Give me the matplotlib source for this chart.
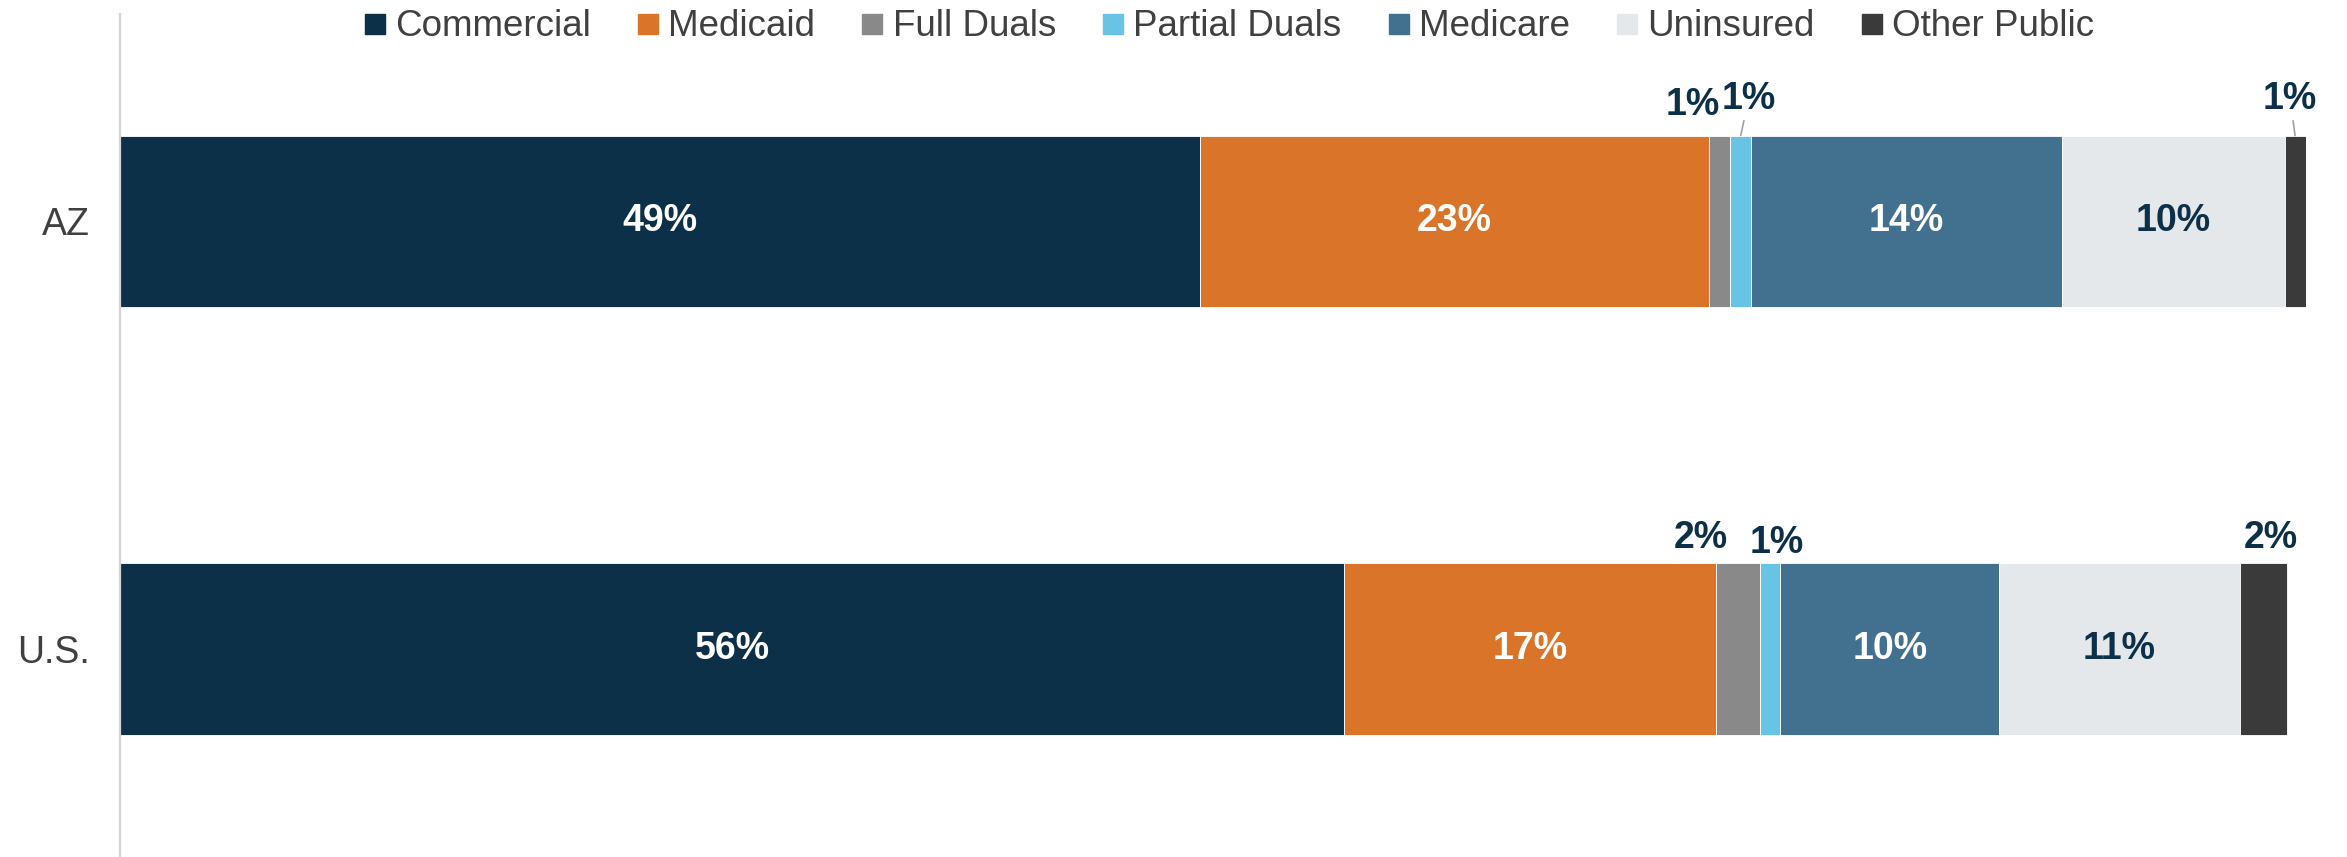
import matplotlib
matplotlib.use("Agg")
import matplotlib.pyplot as plt
from matplotlib.lines import Line2D

plt.rcParams['font.family'] = ['Liberation Sans', 'DejaVu Sans']

categories = ["AZ", "U.S."]
series = ["Commercial", "Medicaid", "Full Duals", "Partial Duals", "Medicare", "Uninsured", "Other Public"]
az_values = [49.4, 23.3, 0.96, 0.96, 14.2, 10.2, 0.96]
us_values = [56.0, 17.0, 2.0, 0.96, 10.0, 11.0, 2.15]
az_labels = ["49%", "23%", "1%", "1%", "14%", "10%", "1%"]
us_labels = ["56%", "17%", "2%", "1%", "10%", "11%", "2%"]

colors = ["#0d3049", "#d97428", "#898989", "#68c3e4", "#41718f", "#e4e8eb", "#3a3a3a"]
inside_color = ["white", "white", None, None, "white", "#0d3049", None]
navy = "#0d3049"

W, H = 2347, 857
fig = plt.figure(figsize=(W / 100, H / 100), dpi=100)
ax = fig.add_axes([120 / W, 0, (2306 - 120) / W, 843 / H])

values = [az_values, us_values]
labels = [az_labels, us_labels]
bar_h = 0.4

# outside label offsets in pixels (dx, dy) and leader flags, per row and series
outside = {
    (0, 2): (-27, 31, False),
    (0, 3): (8, 37, True),
    (0, 6): (-5, 37, True),
    (1, 2): (-37, 25, False),
    (1, 3): (7, 20, False),
    (1, 6): (8, 25, False),
}

for r, (vals, labs) in enumerate(zip(values, labels)):
    left = 0
    for i, (v, lab) in enumerate(zip(vals, labs)):
        ax.barh(r, v, left=left, height=bar_h, color=colors[i],
                edgecolor="white", linewidth=0.6)
        cx = left + v / 2
        if inside_color[i] is not None:
            ax.text(cx, r, lab, ha="center", va="center", color=inside_color[i],
                    fontsize=27, fontweight="bold")
        else:
            dx, dy, leader = outside[(r, i)]
            top = r - bar_h / 2
            if leader:
                ax.annotate(lab, xy=(cx, top), xytext=(dx, dy), textcoords="offset pixels",
                            ha="center", va="center", color=navy, fontsize=27,
                            fontweight="bold",
                            arrowprops=dict(arrowstyle="-", color="#a0a0a0", lw=1.2,
                                            shrinkA=1, shrinkB=0))
            else:
                ax.annotate(lab, xy=(cx, top), xytext=(dx, dy), textcoords="offset pixels",
                            ha="center", va="center", color=navy, fontsize=27,
                            fontweight="bold")
        left += v

ax.set_xlim(0, 100)
ax.set_ylim(1.486, -0.484)
ax.set_yticks(range(len(categories)))
ax.set_yticklabels(categories, fontsize=27, color="#404040")
ax.tick_params(axis="y", length=0, pad=22)
ax.set_xticks([])
for s in ["top", "right", "bottom"]:
    ax.spines[s].set_visible(False)
ax.spines["left"].set_color("#d4d4d4")
ax.spines["left"].set_linewidth(1.6)

handles = [Line2D([0], [0], marker="s", linestyle="none", markersize=15,
                  markerfacecolor=c, markeredgecolor=c) for c in colors]
fig.legend(handles, series, loc="center", bbox_to_anchor=(1229 / W, 1 - 27 / H),
           ncol=7, frameon=False, fontsize=26.5, labelcolor="#404040",
           handlelength=0.6, handletextpad=0.25, columnspacing=1.25,
           borderaxespad=0, borderpad=0)

fig.savefig("out.png", dpi=100)
